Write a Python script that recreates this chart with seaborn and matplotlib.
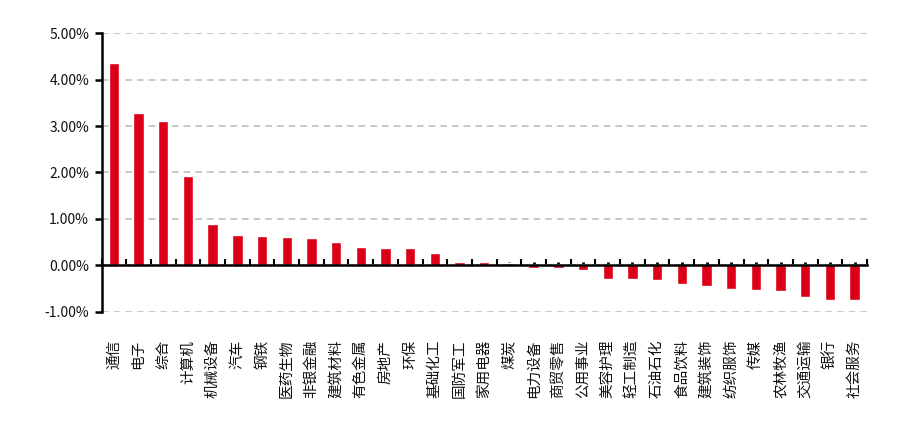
import numpy as np
import matplotlib
matplotlib.use("Agg")
import matplotlib.pyplot as plt
import matplotlib.transforms as mtransforms
from matplotlib.ticker import FuncFormatter, FixedLocator
import seaborn as sns

# industries and their returns (%)
industries = ["通信", "电子", "综合", "计算机", "机械设备", "汽车", "钢铁", "医药生物",
              "非银金融", "建筑材料", "有色金属", "房地产", "环保", "基础化工", "国防军工",
              "家用电器", "煤炭", "电力设备", "商贸零售", "公用事业", "美容护理", "轻工制造",
              "石油石化", "食品饮料", "建筑装饰", "纺织服饰", "传媒", "农林牧渔", "交通运输",
              "银行", "社会服务"]
returns = [4.35, 3.27, 3.10, 1.93, 0.89, 0.66, 0.63, 0.61,
           0.59, 0.50, 0.40, 0.37, 0.37, 0.27, 0.07,
           0.07, 0.05, -0.05, -0.05, -0.10, -0.30, -0.30,
           -0.32, -0.40, -0.45, -0.51, -0.53, -0.55, -0.68,
           -0.75, -0.75]
y_ticks = [-1, 0, 1, 2, 3, 4, 5]

sns.set_style("white")
plt.rcParams["font.family"] = ["Noto Sans CJK SC", "DejaVu Sans"]

fig = plt.figure(figsize=(9.09, 4.32), dpi=100)
ax = fig.add_axes([0.1117, 0.2778, 0.8421, 0.6458])

sns.barplot(x=industries, y=returns, color="#DC0017", saturation=1,
            width=0.42, ax=ax, zorder=3)

n = len(industries)
ax.set_xlim(-0.5, n - 0.5)
ax.set_ylim(-1, 5)
ax.set_xlabel("")
ax.set_ylabel("")

# y axis
ax.yaxis.set_major_locator(FixedLocator(y_ticks))
ax.yaxis.set_major_formatter(FuncFormatter(lambda v, p: f"{v:.2f}%"))
ax.tick_params(axis="y", direction="out", length=5, width=1.8, color="black",
               labelsize=10, pad=4, left=True)
for t in ax.get_yticklabels():
    t.set_color("#111111")
ax.grid(axis="y", color="#BFBFBF", linestyle=(0, (4, 3)), linewidth=1.2, zorder=0)
ax.grid(axis="x", visible=False)

# spines
for s in ["top", "right"]:
    ax.spines[s].set_visible(False)
ax.spines["left"].set_linewidth(1.8)
ax.spines["left"].set_color("black")
ax.spines["bottom"].set_position(("data", 0))
ax.spines["bottom"].set_linewidth(1.8)
ax.spines["bottom"].set_color("black")
ax.spines["bottom"].set_zorder(4)

# x ticks on the zero line, labels drawn at the bottom
ax.set_xticks(np.arange(-0.5, n, 1))
ax.set_xticklabels([])
ax.set_xticks(np.arange(n), minor=True)
ax.tick_params(axis="x", which="major", direction="in", length=4, width=1.5, color="black", bottom=True)
ax.tick_params(axis="x", which="minor", direction="in", length=2.5, width=2, color="black", bottom=True)

trans = mtransforms.blended_transform_factory(ax.transData, ax.transAxes)
for i, name in enumerate(industries):
    ax.text(i, -0.1, name, rotation=90, ha="center", va="top", fontsize=10.5,
            color="#111111", transform=trans)

fig.savefig("out.png", dpi=100)
